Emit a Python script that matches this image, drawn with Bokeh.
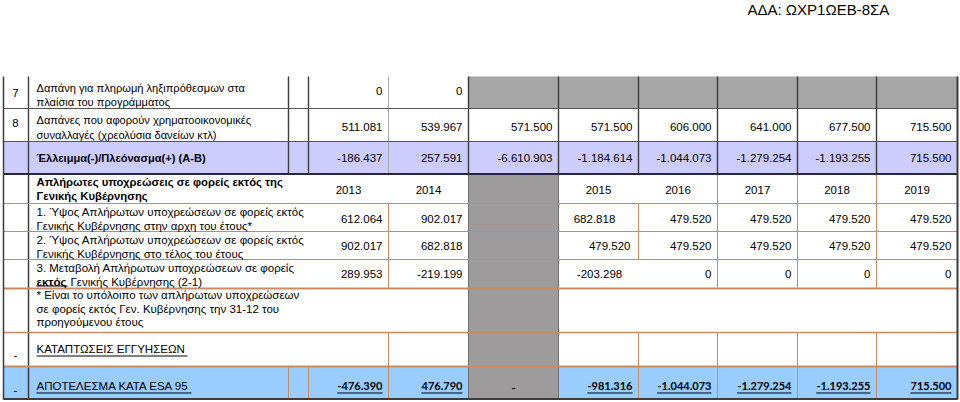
from bokeh.plotting import figure
from bokeh.models import Range1d, ColumnDataSource
from bokeh.core.properties import value
from bokeh.embed import file_html
from bokeh.resources import INLINE

# ---------------- data ----------------
doc_id = "ΑΔΑ: ΩΧΡ1ΩΕΒ-8ΣΑ"

upper_row_numbers = ["7", "8", ""]
upper_labels = [
    ["Δαπάνη για πληρωμή ληξιπρόθεσμων στα", "πλαίσια του προγράμματος"],
    ["Δαπάνες που αφορούν χρηματοοικονομικές", "συναλλαγές (χρεολύσια δανείων κτλ)"],
    ["Έλλειμμα(-)/Πλεόνασμα(+) (Α-Β)"],
]
row7_values = ["0", "0"]
row8_values = ["511.081", "539.967", "571.500", "571.500", "606.000", "641.000", "677.500", "715.500"]
balance_values = ["-186.437", "257.591", "-6.610.903", "-1.184.614", "-1.044.073", "-1.279.254", "-1.193.255", "715.500"]

arrears_title = ["Απλήρωτες υποχρεώσεις σε φορείς εκτός της", "Γενικής Κυβέρνησης"]
years = ["2013", "2014", "", "2015", "2016", "2017", "2018", "2019"]
arrears_labels = [
    ["1. Ύψος Απλήρωτων υποχρεώσεων σε φορείς εκτός", "Γενικής Κυβέρνησης στην αρχη του έτους*"],
    ["2. Ύψος Απλήρωτων υποχρεώσεων σε φορείς εκτός", "Γενικής Κυβέρνησης στο τέλος του έτους"],
]
arrears_change_label = ["3. Μεταβολή Απλήρωτων υποχρεώσεων σε φορείς", "εκτός", "Γενικής Κυβέρνησης (2-1)"]
arrears_start = ["612.064", "902.017", "", "682.818", "479.520", "479.520", "479.520", "479.520"]
arrears_end = ["902.017", "682.818", "", "479.520", "479.520", "479.520", "479.520", "479.520"]
arrears_change = ["289.953", "-219.199", "", "-203.298", "0", "0", "0", "0"]
footnote = ["* Είναι το υπόλοιπο των απλήρωτων υποχρεώσεων",
            "σε φορείς εκτός Γεν. Κυβέρνησης την 31-12 του",
            "προηγούμενου έτους"]
guarantees_label = "ΚΑΤΑΠΤΩΣΕΙΣ ΕΓΓΥΗΣΕΩΝ"
esa_label = "ΑΠΟΤΕΛΕΣΜΑ ΚΑΤΑ ESA 95"
esa_values = ["-476.390", "476.790", "-", "-981.316", "-1.044.073", "-1.279.254", "-1.193.255", "715.500"]

# ---------------- layout ----------------
W, H = 960, 402
X_LEFT, X_NUM, X_LAB, X_GAP = 3, 28, 288, 308
VAL_EDGES = [308, 388, 468, 558, 638, 717, 797, 876, 957]
X_RIGHT = 957
TXT_X = 36

DARK = "#3c3c3c"
ORANGE = "#c98b63"
GREY_TOP = "#a6a6a6"
GREY_LOW = "#9d9b9b"
LAVENDER = "#ccccff"
BLUE = "#99ccff"
FONT = "Liberation Sans"
NUMFONT = "Lato"
FS = "11.5px"
FS_UP = "11.1px"

p = figure(width=W, height=H, output_backend="svg", toolbar_location=None,
           x_range=Range1d(0, W), y_range=Range1d(H, 0),
           min_border=0, outline_line_color=None,
           x_axis_location=None, y_axis_location=None,
           background_fill_color="white", border_fill_color="white")
p.grid.visible = False


def cell_right(i):
    return VAL_EDGES[i + 1] - 6


def cell_center(i):
    return (VAL_EDGES[i] + VAL_EDGES[i + 1]) / 2


# ---------------- fills ----------------
fills = [
    (VAL_EDGES[2], X_RIGHT, 76, 108, GREY_TOP),
    (X_LEFT, X_RIGHT, 141, 173, LAVENDER),
    (X_LEFT, X_RIGHT, 366, 398, BLUE),
    (VAL_EDGES[2], VAL_EDGES[3], 174, 398, GREY_LOW),
]
p.quad(left=[f[0] for f in fills], right=[f[1] for f in fills],
       top=[f[2] for f in fills], bottom=[f[3] for f in fills],
       fill_color=[f[4] for f in fills], line_color=None)

# ---------------- grid lines ----------------
segs = []  # x0, y0, x1, y1, color, width


def hline(y, c, w, x0=X_LEFT, x1=X_RIGHT):
    segs.append((x0, y, x1, y, c, w))


def vline(x, y0, y1, c, w):
    segs.append((x, y0, x, y1, c, w))


for x in [X_NUM, X_LAB, X_GAP] + VAL_EDGES[2:8]:
    vline(x, 76, 173, DARK, 1.4)
vline(VAL_EDGES[1], 76, 173, "#a8a8a8", 1)
hline(108, "#555555", 1)
hline(141, "#555555", 1)

# lower section
vline(X_NUM, 174, 398, DARK, 1.5)
vline(VAL_EDGES[2], 174, 398, "#707070", 1)
vline(VAL_EDGES[3], 174, 398, "#707070", 1)
vline(VAL_EDGES[1], 203, 288, ORANGE, 1)
vline(VAL_EDGES[1], 332, 398, ORANGE, 1)
vline(VAL_EDGES[4], 203, 259, ORANGE, 1)
vline(VAL_EDGES[4], 332, 398, ORANGE, 1)
for x in VAL_EDGES[5:8]:
    vline(x, 174, 288, ORANGE, 1)
    vline(x, 332, 398, ORANGE, 1)
vline(X_LAB, 366, 398, ORANGE, 1)
vline(X_GAP, 366, 398, ORANGE, 1)
for y in [203, 231, 259]:
    hline(y, ORANGE, 1)
hline(288, ORANGE, 2)
hline(332, ORANGE, 1.5)
hline(366, ORANGE, 2)

# borders
hline(173.5, "#262640", 2)
hline(398.5, DARK, 2)
vline(3, 76, 399, DARK, 1.5)
vline(X_RIGHT, 76, 399, DARK, 2)

p.segment(x0=[s[0] for s in segs], y0=[s[1] for s in segs],
          x1=[s[2] for s in segs], y1=[s[3] for s in segs],
          line_color=[s[4] for s in segs], line_width=[s[5] for s in segs])

# ---------------- texts ----------------
texts = []  # x, y, text, align, font, size, style


def put(x, y, s, align="left", font=FONT, size=FS, style="normal"):
    if s != "":
        texts.append((x, y, s, align, font, size, style))


put(747, 9, doc_id, size="15px")

# upper rows
num_y = [92, 122, 157]
label_y = [[87, 101], [119, 134], [157]]
for i, n in enumerate(upper_row_numbers):
    put(15, num_y[i], n, "center")
for i, lines in enumerate(upper_labels):
    for j, s in enumerate(lines):
        put(TXT_X, label_y[i][j], s, size=FS_UP, style="bold" if i == 2 else "normal")
for i, v in enumerate(row7_values):
    put(cell_right(i), 90, v, "right")
for i, v in enumerate(row8_values):
    put(cell_right(i), 126, v, "right")
for i, v in enumerate(balance_values):
    put(cell_right(i), 157, v, "right")

# arrears block
put(TXT_X, 181, arrears_title[0], size="11.3px", style="bold")
put(TXT_X, 195, arrears_title[1], size="11.3px", style="bold")
for i, yv in enumerate(years):
    put(cell_center(i), 189, yv, "center")
lab_y = [[211, 225], [239, 253]]
for i, lines in enumerate(arrears_labels):
    for j, s in enumerate(lines):
        put(TXT_X, lab_y[i][j], s)
put(TXT_X, 267, arrears_change_label[0])
put(TXT_X, 281, arrears_change_label[1], style="bold")
put(TXT_X + 34, 281, arrears_change_label[2])

value_rows = [(arrears_start, 218), (arrears_end, 245), (arrears_change, 273)]
special_align = {(0, 3): ("center", -4), (2, 3): ("center", 1), (1, 3): ("right", -2)}
for r, (vals, yv) in enumerate(value_rows):
    for i, v in enumerate(vals):
        if (r, i) in special_align:
            al, dx = special_align[(r, i)]
            xx = (cell_center(i) if al == "center" else cell_right(i)) + dx
            put(xx, yv, v, al)
        else:
            put(cell_right(i), yv, v, "right")

for j, s in enumerate(footnote):
    put(TXT_X, [294, 308, 321][j], s)

put(15, 354, "-", "center")
put(TXT_X, 348, guarantees_label)
put(15, 389, "-", "center")
put(TXT_X, 385, esa_label)

underlines = [(TXT_X, 285.5, TXT_X + 31), (TXT_X, 355.5, 187), (TXT_X, 392.5, 191)]

NUM_W = {"-": 0.36, ".": 0.26}
for i, v in enumerate(esa_values):
    if v == "-":
        put(cell_center(i), 387, v, "center", font=NUMFONT, size="11px", style="bold")
        continue
    xr = cell_right(i)
    put(xr, 385, v, "right", font=NUMFONT, size="11px", style="bold")
    w = sum(NUM_W.get(ch, 0.58) for ch in v) * 11
    underlines.append((xr - w, 392.5, xr))

p.segment(x0=[u[0] for u in underlines], y0=[u[1] for u in underlines],
          x1=[u[2] for u in underlines], y1=[u[1] for u in underlines],
          line_color="#000000", line_width=1)

groups = {}
for t in texts:
    groups.setdefault((t[3], t[4], t[5], t[6]), []).append(t)
for (al, font, size, style), items in groups.items():
    src = ColumnDataSource(dict(x=[t[0] for t in items], y=[t[1] for t in items],
                                text=[t[2] for t in items]))
    p.text(x="x", y="y", text="text", source=src, text_align=al,
           text_baseline="middle", text_font=value(font),
           text_font_size=size, text_font_style=style, text_color="#000000")

open("out.html", "w").write(file_html(p, INLINE))
